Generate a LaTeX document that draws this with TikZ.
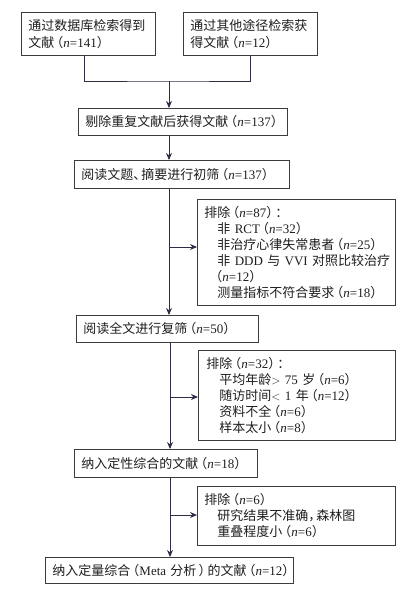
\documentclass[tikz,border=0pt]{standalone}
\usepackage{fontspec}
\setmainfont{Liberation Serif}
\newfontfamily\cjkfont{Noto Sans CJK SC}
\newcommand\zh[1]{{\cjkfont #1}}
\newcommand\nn[1]{\textit{n}=#1}
\newcommand\ind{\hspace*{13pt}}
\newcommand\lp{\kern-4pt\zh{（}}
\newcommand\rp{\zh{）}\kern-4pt}
\usetikzlibrary{arrows.meta}
\definecolor{linec}{RGB}{45,45,70}
\definecolor{boxc}{RGB}{60,60,60}
\definecolor{txtc}{RGB}{30,30,30}
\begin{document}
\begin{tikzpicture}[x=1pt,y=-1pt,
  box/.style={draw=boxc, line width=0.9pt, anchor=north west, align=left,
    inner xsep=7pt, inner ysep=0pt, text=txtc,
    font=\fontsize{13}{16}\selectfont},
  conn/.style={draw=linec, line width=0.9pt},
  arr/.style={conn, -{Stealth[length=7pt,width=6pt]}}]
\useasboundingbox (0,0) rectangle (408,589);

\node[box, text width=120pt, minimum height=43pt, font=\fontsize{13}{17}\selectfont] (b1) at (21,12)
  {\mbox{\zh{通过数据库检索得到}}\\\mbox{\zh{文献}\lp\nn{141}\rp}};
\node[box, text width=120pt, minimum height=43pt, font=\fontsize{13}{17}\selectfont] (b2) at (183,12)
  {\mbox{\zh{通过其他途径检索获}}\\\mbox{\zh{得文献}\lp\nn{12}\rp}};
\node[box, text width=195pt, minimum height=27pt] (b3) at (78,108)
  {\mbox{\zh{剔除重复文献后获得文献}\lp\nn{137}\rp}};
\node[box, text width=201pt, minimum height=28pt] (b4) at (74,160)
  {\mbox{\zh{阅读文题、}\kern-5pt\zh{摘要进行初筛}\lp\nn{137}\rp}};
\node[box, text width=184pt, minimum height=106pt] (b5) at (197,199)
  {\mbox{\zh{排除}\lp\nn{87}\rp\zh{：}}\\
   \mbox{\ind\zh{非} RCT\lp\nn{32}\rp}\\
   \mbox{\ind\zh{非治疗心律失常患者}\lp\nn{25}\rp}\\
   \mbox{\ind\zh{非} DDD \zh{与} VVI \zh{对照比较治疗}}\\
   \mbox{\hspace*{9pt}\lp\nn{12}\rp}\\
   \mbox{\ind\zh{测量指标不符合要求}\lp\nn{18}\rp}};
\node[box, text width=168pt, minimum height=27pt] (b6) at (76,315)
  {\mbox{\zh{阅读全文进行复筛}\lp\nn{50}\rp}};
\node[box, minimum height=90pt, inner xsep=8pt, text width=181pt] (b7) at (198,350)
  {\mbox{\zh{排除}\lp\nn{32}\rp\zh{：}}\\
   \mbox{\ind\zh{平均年龄}$>$ 75 \zh{岁}\lp\nn{6}\rp}\\
   \mbox{\ind\zh{随访时间}$<$ 1 \zh{年}\lp\nn{12}\rp}\\
   \mbox{\ind\zh{资料不全}\lp\nn{6}\rp}\\
   \mbox{\ind\zh{样本太小}\lp\nn{8}\rp}};
\node[box, text width=169pt, minimum height=28pt] (b8) at (74,449)
  {\mbox{\zh{纳入定性综合的文献}\lp\nn{18}\rp}};
\node[box, text width=184pt, minimum height=59pt] (b9) at (197,486)
  {\mbox{\zh{排除}\lp\nn{6}\rp}\\
   \mbox{\ind\zh{研究结果不准确，}\kern-5pt\zh{森林图}}\\
   \mbox{\ind\zh{重叠程度小}\lp\nn{6}\rp}};
\node[box, text width=234pt, minimum height=26pt, inner xsep=7pt] (b10) at (45,557)
  {\mbox{\zh{纳入定量综合}\lp Meta \zh{分析}\,\rp\zh{的文献}\lp\nn{12}\rp}};

\coordinate (j1) at (169,81);
\coordinate (t1) at (169,247);
\coordinate (t2) at (170,397);
\coordinate (t3) at (170,515);

\draw[conn] ([xshift=-4pt]b1.south) |- (j1) -| (b2.south);
\draw[arr] (j1) -- (j1 |- b3.north);
\draw[arr] (j1 |- b3.south) -- (j1 |- b4.north);
\draw[arr] (j1 |- b4.south) -- (j1 |- b6.north);
\draw[arr] (t1) -- (t1 -| b5.west);
\draw[arr] (t2 |- b6.south) -- (t2 |- b8.north);
\draw[arr] (t2) -- (t2 -| b7.west);
\draw[arr] (t3 |- b8.south) -- (t3 |- b10.north);
\draw[arr] (t3) -- (t3 -| b9.west);
\end{tikzpicture}
\end{document}
